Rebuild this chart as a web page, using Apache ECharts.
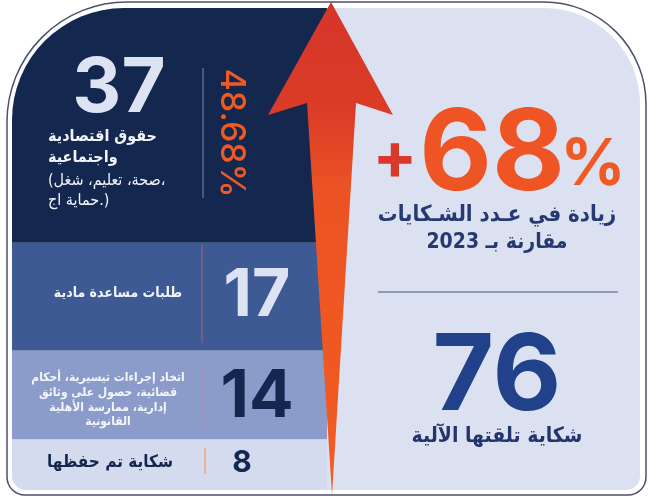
<!DOCTYPE html>
<html>
<head>
    <meta charset="UTF-8">
    <title>الشكايات التي تلقتها الآلية</title>
    <script src="https://cdn.jsdelivr.net/npm/echarts@6/dist/echarts.min.js"></script>
    <style>
        html, body { margin: 0; padding: 0; background: #ffffff; }
    </style>
</head>
<body>
    <!-- حاوية الرسم -->
    <div id="complaintsChart" style="width: 648px; height: 500px;"></div>

    <script type="text/javascript">
        // البيانات: الفئات من الأعلى إلى الأسفل
        var categories = ['حقوق اقتصادية واجتماعية', 'طلبات مساعدة مادية', 'إجراءات تيسيرية', 'شكاية تم حفظها'];
        var counts = [37, 17, 14, 8];
        var totalComplaints = 76;
        var increasePct = 68;
        var topShareLabel = '48.68%';
        var compareYear = 2023;

        // نصوص كل فئة (سطر بسطر)
        var catLines = [
            ['حقوق اقتصادية', 'واجتماعية', '(صحة، تعليم، شغل،', 'حماية اج.)'],
            ['طلبات مساعدة مادية'],
            ['اتخاد إجراءات تيسيرية، أحكام', 'قضائية، حصول على وثائق', 'إدارية، ممارسة الأهلية', 'القانونية'],
            ['شكاية تم حفظها']
        ];

        var barColors = ['#14284f', '#3e5a95', '#8b9ccb', '#d4dbee'];
        var numColors = ['#dde3f2', '#dde3f2', '#14284f', '#14284f'];

        var NUM_FONT = 'Inter, Lato, sans-serif';
        var AR_FONT = '"DejaVu Sans Condensed", "DejaVu Sans", sans-serif';

        var myChart = echarts.init(document.getElementById('complaintsChart'));

        // الأعمدة المكدسة: من الأسفل إلى الأعلى
        var series = [];
        for (var i = counts.length - 1; i >= 0; i--) {
            var radius = [0, 0, 0, 0];
            if (i === 0) radius = [112, 0, 0, 0];
            if (i === counts.length - 1) radius = [0, 0, 0, 14];
            series.push({
                name: categories[i],
                type: 'bar',
                stack: 'total',
                barWidth: '100%',
                data: [counts[i]],
                itemStyle: { color: barColors[i], borderRadius: radius },
                silent: true,
                z: 2
            });
        }

        function txt(x, y, text, size, weight, color, family, align, extra) {
            var el = {
                type: 'text',
                x: x,
                y: y,
                z: 20,
                silent: true,
                style: {
                    text: text,
                    fill: color,
                    fontSize: size,
                    fontWeight: weight,
                    fontFamily: family,
                    align: align || 'center',
                    verticalAlign: 'middle'
                }
            };
            if (extra) for (var k in extra) el[k] = extra[k];
            return el;
        }

        function vline(x, y1, y2, color, w) {
            return {
                type: 'line', z: 20, silent: true,
                shape: { x1: x, y1: y1, x2: x, y2: y2 },
                style: { stroke: color, lineWidth: w || 1.5 }
            };
        }

        var graphics = [
            // اللوحة اليمنى
            {
                type: 'rect', z: 0, silent: true,
                shape: { x: 327, y: 8, width: 313, height: 482, r: [0, 96, 14, 0] },
                style: { fill: '#dbe1f1' }
            },
            // الإطار الخارجي
            {
                type: 'rect', z: 1, silent: true,
                shape: { x: 7, y: 2, width: 639, height: 493, r: [120, 102, 18, 18] },
                style: { fill: null, stroke: '#4b4f6e', lineWidth: 1.5 }
            },
            // السهم
            {
                type: 'polygon', z: 10, silent: true,
                shape: {
                    points: [[331, 2], [393, 115], [356, 103], [332, 495], [307, 103], [268, 115]]
                },
                style: {
                    fill: new echarts.graphic.LinearGradient(0, 0, 0, 1, [
                        { offset: 0, color: '#d6352a' },
                        { offset: 0.22, color: '#da3c27' },
                        { offset: 0.38, color: '#ec5324' },
                        { offset: 1, color: '#f35c21' }
                    ])
                }
            }
        ];

        // القسم الأول
        graphics.push(txt(119, 89, String(counts[0]), 76, 'bold', numColors[0], NUM_FONT));
        graphics.push(txt(48, 137, catLines[0][0], 16, 'bold', '#f2f4fa', AR_FONT, 'left'));
        graphics.push(txt(48, 158, catLines[0][1], 16, 'bold', '#f2f4fa', AR_FONT, 'left'));
        graphics.push(txt(48, 181, catLines[0][2], 16, 'normal', '#f2f4fa', AR_FONT, 'left'));
        graphics.push(txt(48, 201, catLines[0][3], 16, 'normal', '#f2f4fa', AR_FONT, 'left'));
        graphics.push(vline(203, 68, 198, '#5f6787'));
        graphics.push(txt(231, 133, topShareLabel, 34, '500', '#ee5a24', NUM_FONT, 'center', { rotation: -Math.PI / 2 }));

        // القسم الثاني
        graphics.push(txt(118, 293, catLines[1][0], 14, 'bold', '#f2f4fa', AR_FONT));
        graphics.push(vline(202, 245, 343, '#85607f'));
        graphics.push(txt(257, 296, String(counts[1]), 66, 'bold', numColors[1], NUM_FONT));

        // القسم الثالث
        var l3y = [378, 393, 408, 422];
        for (var j = 0; j < catLines[2].length; j++) {
            graphics.push(txt(108, l3y[j], catLines[2][j], 12, 'bold', '#f4f6fb', AR_FONT));
        }
        graphics.push(vline(202, 368, 430, '#a38fb0'));
        graphics.push(txt(257, 397, String(counts[2]), 66, 'bold', numColors[2], NUM_FONT));

        // القسم الرابع
        graphics.push(txt(110, 463, catLines[3][0], 17, 'bold', '#14284f', AR_FONT));
        graphics.push(vline(205, 448, 474, '#f2a57a'));
        graphics.push(txt(242, 463, String(counts[3]), 30, 'bold', numColors[3], NUM_FONT));

        // اللوحة اليمنى: الزيادة والمجموع
        graphics.push(txt(395, 159, '+', 66, 'bold', '#d8392a', NUM_FONT));
        graphics.push(txt(492, 156, String(increasePct), 112, 'bold', '#ee5424', NUM_FONT));
        graphics.push(txt(593, 166, '%', 64, 'bold', '#f05a22', NUM_FONT));
        graphics.push(txt(497, 215, 'زيادة في عـدد الشـكايات', 22, 'bold', '#263a72', AR_FONT));
        graphics.push(txt(497, 243, 'مقارنة بـ ' + compareYear, 21, 'bold', '#263a72', AR_FONT));
        graphics.push({
            type: 'line', z: 20, silent: true,
            shape: { x1: 378, y1: 292, x2: 618, y2: 292 },
            style: { stroke: '#8f98b6', lineWidth: 2 }
        });
        graphics.push(txt(497, 378, String(totalComplaints), 106, 'bold', '#21428a', NUM_FONT));
        graphics.push(txt(497, 437, 'شكاية تلقتها الآلية', 21, 'bold', '#24356e', AR_FONT));

        var option = {
            animation: false,
            grid: { left: 12, right: 321, top: 8, bottom: 10 },
            xAxis: {
                type: 'category',
                data: ['الشكايات'],
                show: false
            },
            yAxis: {
                type: 'value',
                min: 0,
                max: totalComplaints,
                show: false
            },
            series: series,
            graphic: graphics
        };

        myChart.setOption(option);
    </script>
</body>
</html>
